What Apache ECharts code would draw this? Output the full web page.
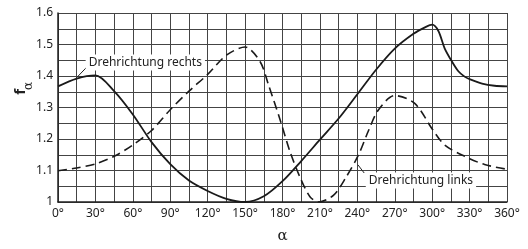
<!DOCTYPE html>
<html>
<head>
<meta charset="utf-8">
<script src="https://cdn.jsdelivr.net/npm/echarts@6/dist/echarts.min.js"></script>
<style>
  html, body { margin: 0; padding: 0; background: #fff; }
  #chart { width: 528px; height: 249px; }
</style>
</head>
<body>
<div id="chart"></div>
<script>
// Drehrichtung rechts (solid)
var winkelRechts = [0, 15, 30, 45, 60, 75, 90, 105, 120, 135, 150, 165, 180, 195, 210, 225, 240, 255, 270, 285, 295, 300, 305, 310, 316, 321, 326, 330, 340, 350, 360];
var werteRechts = [1.367, 1.392, 1.402, 1.352, 1.278, 1.19, 1.12, 1.068, 1.035, 1.01, 1.0, 1.018, 1.066, 1.13, 1.198, 1.265, 1.342, 1.42, 1.487, 1.534, 1.556, 1.563, 1.543, 1.488, 1.445, 1.415, 1.398, 1.39, 1.376, 1.369, 1.367];

// Drehrichtung links (dashed)
var winkelLinks = [0, 15, 30, 45, 60, 75, 90, 105, 120, 135, 150, 162, 169, 178, 186, 194, 202, 209, 221, 231, 241, 249, 257, 270, 286, 300, 310, 326, 342, 360];
var werteLinks = [1.099, 1.108, 1.121, 1.145, 1.181, 1.227, 1.293, 1.352, 1.405, 1.466, 1.492, 1.446, 1.369, 1.262, 1.16, 1.079, 1.017, 1.0, 1.022, 1.079, 1.15, 1.227, 1.293, 1.338, 1.313, 1.232, 1.181, 1.145, 1.119, 1.104];

var xTicks = [0, 30, 60, 90, 120, 150, 180, 210, 240, 270, 300, 330, 360];

function paare(xs, ys) {
  return xs.map(function (x, i) { return [x, ys[i]]; });
}

var chartDom = document.getElementById('chart');
var myChart = echarts.init(chartDom);
var schrift = 'Noto Sans';

var option = {
  animation: false,
  grid: { left: 58, right: 21, top: 13, bottom: 40 },
  xAxis: {
    type: 'value',
    min: 0, max: 360, interval: 30,
    name: 'α', nameLocation: 'middle', nameGap: 27,
    nameTextStyle: { color: '#222', fontSize: 15, fontFamily: 'DejaVu Serif' },
    axisLine: { show: true, lineStyle: { color: '#222', width: 1.5 } },
    axisTick: { show: false },
    axisLabel: {
      color: '#222', fontSize: 12, fontFamily: schrift, margin: 6,
      formatter: function (v) { return xTicks.indexOf(v) >= 0 ? v + '°' : ''; }
    },
    splitLine: { show: true, lineStyle: { color: '#444', width: 1 } },
    minorTick: { show: false, splitNumber: 2 },
    minorSplitLine: { show: true, lineStyle: { color: '#444', width: 1 } }
  },
  yAxis: {
    type: 'value',
    min: 1, max: 1.6, interval: 0.1,
    axisLine: { show: true, lineStyle: { color: '#222', width: 1.5 } },
    axisTick: { show: false },
    axisLabel: {
      color: '#222', fontSize: 12, fontFamily: schrift, margin: 5,
      formatter: function (v) { return v === 1 ? '1' : v.toFixed(1); }
    },
    splitLine: { show: true, lineStyle: { color: '#444', width: 1 } },
    minorTick: { show: false, splitNumber: 2 },
    minorSplitLine: { show: true, lineStyle: { color: '#444', width: 1 } }
  },
  series: [
    {
      name: 'Drehrichtung rechts',
      type: 'line',
      data: paare(winkelRechts, werteRechts),
      smooth: 0.3,
      symbol: 'none',
      lineStyle: { color: '#1a1a1a', width: 1.8 },
      z: 3
    },
    {
      name: 'Drehrichtung links',
      type: 'line',
      data: paare(winkelLinks, werteLinks),
      smooth: 0.3,
      symbol: 'none',
      lineStyle: { color: '#1a1a1a', width: 1.6, type: [9, 5] },
      z: 3
    }
  ]
};
myChart.setOption(option);

// Beschriftungen mit Hinweislinien (Datenkoordinaten)
var hinweise = [
  { text: 'Drehrichtung rechts', at: [70, 1.443], von: [15, 1.395], bis: [24, 1.432] },
  { text: 'Drehrichtung links', at: [291, 1.068], von: [240.5, 1.118], bis: [245.5, 1.092] }
];

function px(p) { return myChart.convertToPixel({ gridIndex: 0 }, p); }

var grafik = [];
hinweise.forEach(function (h) {
  var a = px(h.von), b = px(h.bis), c = px(h.at);
  grafik.push({
    type: 'line', z: 10,
    shape: { x1: a[0], y1: a[1], x2: b[0], y2: b[1] },
    style: { stroke: '#222', lineWidth: 1 }
  });
  grafik.push({
    type: 'text', z: 11, x: c[0], y: c[1],
    style: {
      text: h.text, align: 'center', verticalAlign: 'middle',
      fill: '#222', font: '12px "Noto Sans"',
      backgroundColor: '#fff', padding: [2, 3, 2, 3]
    }
  });
});

// y-Achsentitel f_α, um 90° gedreht (von unten nach oben lesend)
grafik.push({
  type: 'group', x: 21, y: 87, rotation: Math.PI / 2,
  children: [
    {
      type: 'text', x: -2, y: 0,
      style: { text: 'f', font: 'bold 15px "Noto Sans"', fill: '#222', align: 'right', verticalAlign: 'middle' }
    },
    {
      type: 'text', x: -3, y: 8,
      style: { text: 'α', font: '12px "DejaVu Serif"', fill: '#222', align: 'left', verticalAlign: 'middle' }
    }
  ]
});

myChart.setOption({ graphic: grafik });
</script>
</body>
</html>
